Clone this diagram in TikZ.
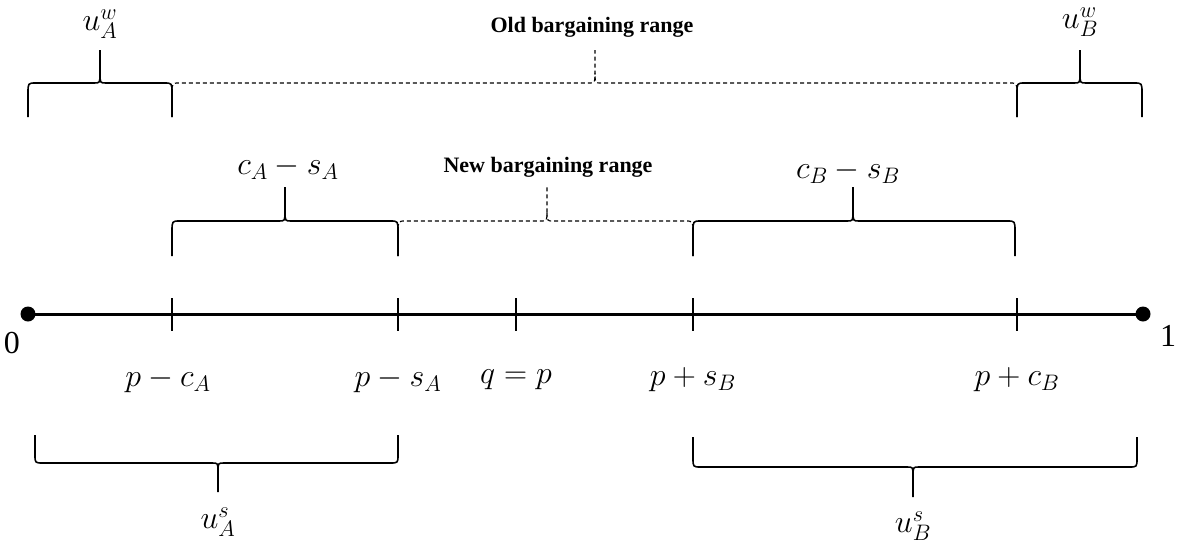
\documentclass[tikz,border=0pt]{standalone}
\usepackage{fix-cm}
\usepackage{fontspec}
\setmainfont{Liberation Serif}
\newcommand{\wordbrace}[7][]{%
  % #2 xL, #3 xM, #4 xR, #5 yEnd, #6 yH, #7 yTip
  \draw[#1] (#2,#5) -- ({#2},{#6+0.3*(#5-#6)})
    .. controls (#2,#6) .. ({#2+8},#6) -- ({#3-6},#6)
    .. controls (#3,#6) .. ({#3},{#6+0.3*(#7-#6)}) -- (#3,#7);
  \draw[#1] (#4,#5) -- ({#4},{#6+0.3*(#5-#6)})
    .. controls (#4,#6) .. ({#4-8},#6) -- ({#3+6},#6)
    .. controls (#3,#6) .. ({#3},{#6+0.3*(#7-#6)});
}
\begin{document}
\begin{tikzpicture}[x=1pt,y=-1pt,
  mathlbl/.style={inner sep=0pt,font=\fontsize{32}{38}\selectfont},
  boldlbl/.style={inner sep=0pt,font=\fontsize{22}{26}\selectfont\bfseries},
  numlbl/.style={inner sep=0pt,font=\fontsize{32}{36}\selectfont},
  solidbrace/.style={line width=1.6pt,line join=round},
  dashbrace/.style={line width=1.2pt,dash pattern=on 4pt off 3pt},
  axisline/.style={line width=3pt},
  tickline/.style={line width=2.4pt},
  enddot/.style={circle,fill=black,inner sep=0pt,minimum size=15pt}]
\useasboundingbox (0,0) rectangle (1177,544);

% axis
\node[enddot] (d0) at (28,314) {};
\node[enddot] (d1) at (1143,314) {};
\draw[axisline] (d0.center) -- (d1.center);
\foreach \n/\x in {t1/172,t2/398,t3/516,t4/693,t5/1017}{
  \coordinate (\n) at (\x,314);
  \draw[tickline] ([yshift=16pt]\n) -- ([yshift=-17pt]\n);
}
\node[numlbl] (n0) at (12,343) {0};
\node[numlbl] (n1) at (1168,336) {1};

% labels under axis
\node[mathlbl] (l1) at (168,380) {$p-c_A$};
\node[mathlbl] (l2) at (398,380) {$p-s_A$};
\node[mathlbl] (l3) at (516,380) {$q=p$};
\node[mathlbl] (l4) at (693,380) {$p+s_B$};
\node[mathlbl] (l5) at (1017,380) {$p+c_B$};

% top row
\wordbrace[solidbrace]{28}{100}{172}{117}{83}{50}
\wordbrace[dashbrace]{172}{595}{1017}{117}{83}{50}
\wordbrace[solidbrace]{1017}{1080}{1142}{117}{83}{50}
\node[mathlbl] (uAw) at (100,24) {$u_A^w$};
\node[boldlbl] (old) at (592,27) {Old bargaining range};
\node[mathlbl] (uBw) at (1080,22) {$u_B^w$};

% second row
\wordbrace[solidbrace]{172}{285}{398}{256}{221}{187}
\wordbrace[dashbrace]{398}{547}{693}{256}{221}{187}
\wordbrace[solidbrace]{693}{853}{1015}{256}{221}{187}
\node[mathlbl] (cAsA) at (288,168) {$c_A-s_A$};
\node[boldlbl] (new) at (548,167) {New bargaining range};
\node[mathlbl] (cBsB) at (848,172) {$c_B-s_B$};

% bottom row
\wordbrace[solidbrace]{35}{218}{398}{435}{463}{492}
\wordbrace[solidbrace]{693}{913}{1137}{437}{467}{497}
\node[mathlbl] (uAs) at (218,522) {$u_A^s$};
\node[mathlbl] (uBs) at (913,526) {$u_B^s$};
\end{tikzpicture}
\end{document}
